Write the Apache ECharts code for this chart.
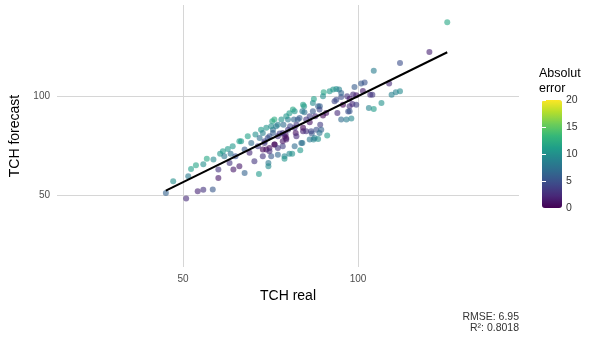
<!DOCTYPE html>
<html>
<head>
<meta charset="utf-8">
<script src="https://cdn.jsdelivr.net/npm/echarts@6/dist/echarts.min.js"></script>
<style>
  html, body { margin: 0; padding: 0; background: #fff; }
  #chart { width: 596px; height: 337px; }
</style>
</head>
<body>
<div id="chart"></div>
<script>
// observed (TCH real) and predicted (TCH forecast)
const realValues = [
  45.1, 47.2, 50.9, 51.5, 52.3, 53.7, 54.2, 55.8, 55.8, 56.8, 58.5, 58.7, 60.1, 60.1, 60.6, 61.4, 61.8, 62.8, 63.3, 63.6,
  64.2, 64.4, 65.0, 66.1, 66.1, 66.6, 67.6, 67.6, 68.5, 69.0, 69.5, 70.4, 70.7, 71.4, 71.7, 71.9, 72.3, 72.8, 73.3, 73.8,
  74.4, 74.4, 74.7, 74.7, 75.2, 75.5, 75.7, 76.2, 76.6, 77.1, 77.6, 78.1, 78.5, 79.0, 79.3, 79.5, 80.0, 80.4, 80.6, 81.2,
  81.4, 81.7, 82.2, 82.4, 82.8, 83.5, 84.1, 84.3, 84.6, 84.7, 85.2, 86.2, 86.8, 87.1, 87.3, 87.4, 87.8, 88.1, 88.6, 89.1,
  89.2, 89.5, 90.0, 90.2, 91.2, 91.9, 92.9, 93.3, 93.8, 94.1, 94.6, 95.2, 95.2, 96.7, 96.9, 97.2, 97.6, 98.1, 98.4, 99.0,
  99.5, 100.9, 101.4, 101.9, 103.1, 103.5, 104.1, 104.5, 104.5, 106.7, 108.9, 109.6, 110.8, 112.0, 112.0, 120.4, 125.5,
  90.0, 95.2, 93.8, 95.7, 97.6, 98.6, 97.6, 99.5, 88.6, 84.3, 84.1, 81.9, 83.3, 80.4, 79.5, 76.1, 75.2, 73.8, 77.1, 78.7,
  80.0, 81.9, 84.3, 86.2, 87.1, 89.0, 90.9, 86.6, 89.0, 87.6, 86.2, 83.8, 81.9, 79.5, 79.0, 78.5, 77.1, 75.7, 74.2, 72.8,
  73.3, 76.1, 77.1, 74.7, 72.8, 79.0, 78.5, 82.4, 85.2
];
const forecastValues = [
  51.3, 57.2, 48.5, 59.7, 63.4, 65.3, 52.2, 52.9, 65.8, 68.6, 53.0, 68.1, 58.9, 63.1, 71.1, 72.3, 69.8, 73.5, 66.4, 71.1,
  74.8, 63.1, 69.8, 77.3, 64.8, 77.3, 61.4, 73.2, 79.9, 71.5, 76.5, 67.3, 80.7, 74.8, 60.9, 79.0, 83.2, 69.8, 77.3, 73.2,
  66.4, 64.8, 79.9, 74.0, 69.8, 87.4, 83.2, 75.7, 84.9, 70.6, 81.2, 88.3, 74.8, 69.8, 80.7, 79.0, 88.3, 71.1, 84.9, 71.1,
  93.3, 88.3, 81.5, 85.7, 88.3, 72.8, 76.5, 82.4, 95.0, 92.0, 88.3, 86.9, 81.2, 96.6, 78.2, 98.7, 89.9, 83.2, 78.5, 95.0,
  85.7, 83.2, 90.3, 102.0, 80.2, 102.5, 103.4, 97.5, 103.7, 91.6, 103.4, 88.3, 99.7, 88.3, 100.0, 92.4, 95.0, 88.8, 96.1, 104.7,
  100.5, 106.4, 102.7, 107.0, 94.1, 100.8, 100.8, 93.6, 112.9, 96.6, 106.4, 100.8, 102.0, 102.5, 116.8, 122.3, 137.3,
  100.0, 101.7, 98.3, 95.8, 98.8, 100.9, 92.5, 95.8, 95.0, 95.8, 92.5, 92.5, 89.1, 91.4, 89.9, 88.3, 84.9, 84.1, 85.7, 85.7,
  83.2, 84.1, 84.1, 89.9, 92.5, 93.3, 91.6, 82.4, 81.5, 79.0, 78.2, 76.5, 74.8, 78.2, 79.9, 81.5, 79.9, 81.5, 79.0, 81.5,
  76.5, 75.7, 74.0, 72.3, 73.2, 68.6, 77.4, 79.9, 82.4
];
// linear fit drawn across the data range
const fitReal = [45.1, 125.5];
const fitForecast = [52.5, 122.2];
const mainTicks = [50, 100];
const errorTicks = [0, 5, 10, 15, 20];
const viridis = ['#440154', '#482878', '#3E4A89', '#31688E', '#26828E', '#1F9E89', '#35B779', '#6DCD59', '#B4DE2C', '#FDE725'];

const font = 'Liberation Sans, Arial, sans-serif';

const points = realValues.map((r, i) => [r, forecastValues[i], Math.abs(forecastValues[i] - r)]);
const fitLine = fitReal.map((r, i) => [r, fitForecast[i]]);

const chart = echarts.init(document.getElementById('chart'));
chart.setOption({
  animation: false,
  textStyle: { fontFamily: font },
  title: [
    {
      text: 'Absolut\nerror',
      left: 539,
      top: 66,
      padding: 0,
      textStyle: { fontSize: 12.5, fontWeight: 'normal', color: '#000', lineHeight: 15, fontFamily: font }
    },
    {
      text: 'RMSE: 6.95\nR²: 0.8018',
      left: 519,
      top: 312,
      padding: 0,
      textAlign: 'right',
      textStyle: { fontSize: 10.5, fontWeight: 'normal', color: '#333', lineHeight: 10.5, fontFamily: font }
    }
  ],
  grid: [
    { left: 57, right: 77, top: 5, bottom: 70 },
    { left: 542, top: 100, width: 20, height: 108 }
  ],
  xAxis: [
    {
      type: 'value',
      min: 14,
      max: 146,
      name: 'TCH real',
      nameLocation: 'middle',
      nameGap: 21,
      nameTextStyle: { fontSize: 14, color: '#000', fontFamily: font },
      axisLine: { show: false },
      axisTick: { show: false, customValues: mainTicks },
      axisLabel: { customValues: mainTicks, fontSize: 10, color: '#4D4D4D', margin: 7 },
      splitLine: { lineStyle: { color: '#d6d6d6', width: 1 } }
    },
    { type: 'value', gridIndex: 1, show: false, min: 0, max: 1 }
  ],
  yAxis: [
    {
      type: 'value',
      min: 14,
      max: 146,
      name: 'TCH forecast',
      nameLocation: 'middle',
      nameGap: 20,
      nameTextStyle: { fontSize: 14, color: '#000', fontFamily: font },
      axisLine: { show: false },
      axisTick: { show: false, customValues: mainTicks },
      axisLabel: { customValues: mainTicks, fontSize: 10, color: '#4D4D4D', margin: 7 },
      splitLine: { lineStyle: { color: '#d6d6d6', width: 1 } }
    },
    {
      type: 'value',
      gridIndex: 1,
      position: 'right',
      min: 0,
      max: 20,
      z: 10,
      axisLine: { show: false },
      axisTick: { show: true, inside: true, length: 4, customValues: errorTicks, lineStyle: { color: '#fff', width: 1 } },
      axisLabel: { customValues: errorTicks, fontSize: 10.5, color: '#333', margin: 4 },
      splitLine: { show: false }
    },
    {
      type: 'value',
      gridIndex: 1,
      position: 'left',
      min: 0,
      max: 20,
      z: 10,
      axisLine: { show: false },
      axisTick: { show: true, inside: true, length: 4, customValues: errorTicks, lineStyle: { color: '#fff', width: 1 } },
      axisLabel: { show: false },
      splitLine: { show: false }
    }
  ],
  visualMap: {
    type: 'continuous',
    seriesIndex: 0,
    dimension: 2,
    min: 0,
    max: 20,
    calculable: false,
    left: 542,
    top: 100,
    padding: 0,
    itemWidth: 20,
    itemHeight: 108,
    text: null,
    showLabel: false,
    inRange: { color: viridis }
  },
  series: [
    {
      type: 'scatter',
      data: points,
      symbolSize: 6,
      itemStyle: { opacity: 0.6 }
    },
    {
      type: 'line',
      data: fitLine,
      symbol: 'none',
      z: 5,
      lineStyle: { color: '#000', width: 2 }
    }
  ]
});
</script>
</body>
</html>
